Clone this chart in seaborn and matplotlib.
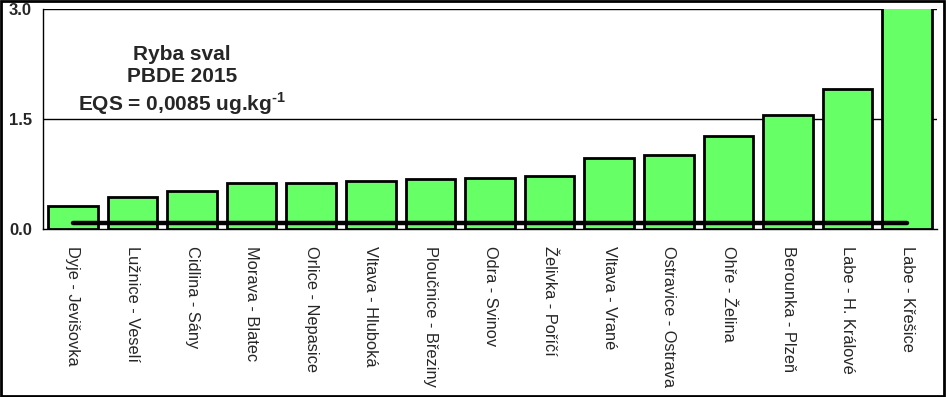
import numpy as np
import pandas as pd
import matplotlib
matplotlib.use('Agg')
import matplotlib.pyplot as plt
import seaborn as sns
from matplotlib.patches import Rectangle

# data
stations = ['Dyje - Jevišovka', 'Lužnice - Veselí', 'Cidlina - Sány', 'Morava - Blatec',
            'Orlice - Nepasice', 'Vltava - Hluboká', 'Ploučnice - Březiny', 'Odra - Svinov',
            'Želivka - Poříčí', 'Vltava - Vrané', 'Ostravice - Ostrava', 'Ohře - Želina',
            'Berounka - Plzeň', 'Labe - H. Králové', 'Labe - Křešice']
pbde = [0.32, 0.43, 0.52, 0.63, 0.63, 0.65, 0.68, 0.70, 0.72, 0.97, 1.01, 1.27, 1.56, 1.91, 3.30]
eqs = 0.085
yticks = [0.0, 1.5, 3.0]

sns.set_style('white')
plt.rcParams['font.family'] = ['Liberation Sans', 'DejaVu Sans']
plt.rcParams['mathtext.fontset'] = 'custom'
plt.rcParams['mathtext.rm'] = 'Liberation Sans:bold'
plt.rcParams['mathtext.bf'] = 'Liberation Sans:bold'

df = pd.DataFrame({'stanice': stations, 'pbde': pbde})
df_eqs = pd.DataFrame({'stanice': stations, 'eqs': [eqs] * len(stations)})

fig = plt.figure(figsize=(9.46, 3.97), dpi=100)
ax = fig.add_axes([43/946, 1 - 229/397, (937-43)/946, (229-9)/397])

sns.barplot(data=df, x='stanice', y='pbde', color='#66FF66', saturation=1,
            edgecolor='black', linewidth=2, width=0.83, ax=ax, zorder=3)
sns.lineplot(data=df_eqs, x='stanice', y='eqs', color='black', linewidth=3.2,
             ax=ax, zorder=4, sort=False)

ax.set_ylim(0, 3.0)
ax.set_xlim(-0.5, len(stations) - 0.5)
ax.set_yticks(yticks)
ax.set_yticklabels(['%.1f' % v for v in yticks], fontsize=12, fontweight='bold')
for v in yticks[1:]:
    ax.axhline(v, color='black', lw=1, zorder=1)

ax.set_xticks(range(len(stations)))
ax.set_xticklabels(stations, rotation=270, ha='center', va='top', fontsize=11.8)
ax.tick_params(axis='x', length=0, pad=12)
ax.set_xticks(np.arange(-0.5, len(stations), 1), minor=True)
ax.tick_params(axis='x', which='minor', length=5, width=1, color='black', direction='out')
ax.tick_params(axis='y', length=5, width=1, color='black', direction='out', pad=3)
ax.set_xlabel('')
ax.set_ylabel('')

for s in ['top', 'right']:
    ax.spines[s].set_visible(False)
for s in ['left', 'bottom']:
    ax.spines[s].set_color('black')
    ax.spines[s].set_linewidth(1)

fig.text(182/946, 1 - 81/397, 'Ryba sval\nPBDE 2015\nEQS = 0,0085 ug.kg$^{\\text{-1}}$',
         ha='center', va='center', fontsize=15, fontweight='bold', linespacing=1.22)

fig.patches.append(Rectangle((0.001, 0.002), 0.997, 0.996, transform=fig.transFigure,
                             fill=False, edgecolor='black', linewidth=2))

plt.savefig('out.png', dpi=100)
